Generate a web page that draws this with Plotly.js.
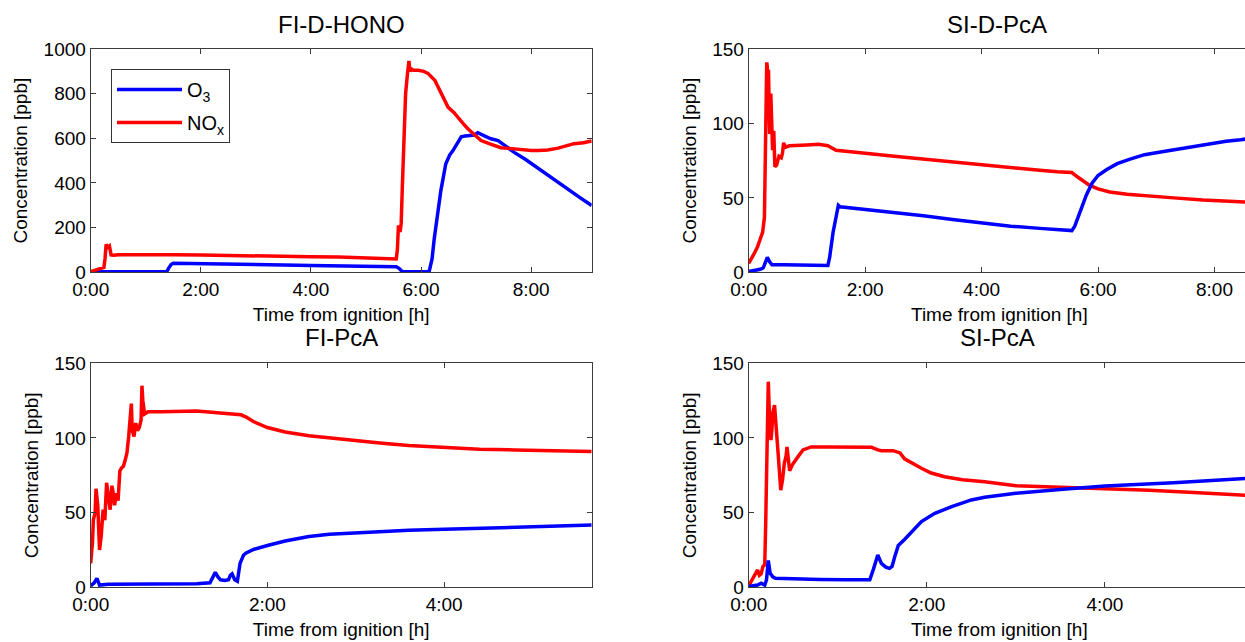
<!DOCTYPE html>
<html>
<head>
<meta charset="utf-8">
<script src="https://cdn.plot.ly/plotly-3.0.1.min.js"></script>
<style>
html,body{margin:0;padding:0;overflow:hidden;background:#fff;}
#chart{width:1250px;height:642px;}
</style>
</head>
<body>
<div id="chart"></div>
<script>
// ---------- data (time in hours from ignition, concentrations in ppb) ----------
const panelTitles = ['FI-D-HONO', 'SI-D-PcA', 'FI-PcA', 'SI-PcA'];
const seriesNames = ['O<sub>3</sub>', 'NO<sub>x</sub>'];
const xTickVals = [0, 2, 4, 6, 8];
const xTickText = ['0:00', '2:00', '4:00', '6:00', '8:00'];

// FI-D-HONO
const hono_nox_t = [0,0.1,0.2,0.24,0.26,0.28,0.31,0.34,0.37,0.42,0.5,1.0,1.5,2.0,2.5,3.0,3.5,4.0,4.5,5.0,5.3,5.55,5.57,5.59,5.62,5.64,5.66,5.69,5.72,5.75,5.78,5.8,5.83,5.86,5.95,6.05,6.13,6.25,6.4,6.49,6.6,6.67,6.77,6.85,6.95,7.09,7.25,7.45,7.6,7.82,8.0,8.13,8.3,8.49,8.65,8.78,8.95,9.1];
const hono_nox   = [3,10,16,22,60,125,112,118,78,76,79,80,79,77,76,74,72,70,68,65,63,60,100,210,180,220,380,600,800,880,946,900,910,905,905,900,890,860,790,740,715,692,665,643,620,590,575,558,555,549,545,545,548,556,568,576,580,588];
const hono_o3_t  = [0,0.5,1.0,1.38,1.42,1.46,1.5,2.0,2.5,3.0,3.5,4.0,4.5,5.0,5.4,5.55,5.6,5.65,5.7,6.0,6.12,6.15,6.2,6.24,6.3,6.36,6.45,6.52,6.58,6.66,6.73,6.8,6.91,6.97,7.03,7.1,7.2,7.27,7.4,7.5,7.7,7.9,8.1,8.3,8.5,8.7,8.9,9.1];
const hono_o3    = [2,2,2,3,20,35,40,39,37,35,33,31,29,28,27,25,18,5,2,2,3,6,60,150,260,366,486,525,545,580,607,610,612,615,625,615,605,598,590,572,536,505,470,433,400,365,332,299];

// SI-D-PcA
const sid_nox_t = [0,0.05,0.1,0.15,0.2,0.24,0.27,0.29,0.3,0.31,0.32,0.33,0.34,0.36,0.38,0.4,0.41,0.43,0.45,0.48,0.52,0.56,0.58,0.6,0.63,0.7,0.8,1.0,1.2,1.36,1.5,1.7,2.0,2.5,3.0,3.5,4.0,4.5,5.0,5.3,5.55,5.65,5.75,5.85,6.0,6.2,6.5,6.9,7.3,7.8,8.2,8.61];
const sid_nox   = [6,9,13,17,22,27,37,82,130,141,138,110,136,93,120,100,82,95,71,72,78,77,80,87,84,85,85,85.5,86,85,82,81,80,78,76,74,72,70,68.5,67.5,67,64,61,58.5,56,54,52.5,51,50,48.5,48,47];
const sid_o3_t  = [0,0.1,0.2,0.25,0.3,0.32,0.36,0.4,0.6,0.8,1.0,1.2,1.36,1.39,1.42,1.45,1.5,1.54,1.57,1.7,2.0,2.5,3.0,3.5,4.0,4.5,5.0,5.3,5.55,5.6,5.7,5.8,5.9,6.0,6.15,6.33,6.55,6.8,7.1,7.4,7.7,7.96,8.2,8.45,8.61];
const sid_o3    = [0.5,1,2,3,8,10,7,5,5,5,5,4.8,4.5,10,20,27,37,45,44,43.5,42.4,40,38,35.5,33,31,29.5,29,28,31,41,52,60,65,69,73,76,79,81,83,85,86.5,88,89,90];

// FI-PcA
const fi_nox_t = [0,0.02,0.03,0.05,0.06,0.08,0.1,0.12,0.14,0.16,0.18,0.2,0.22,0.24,0.25,0.27,0.29,0.31,0.33,0.35,0.37,0.39,0.41,0.43,0.44,0.46,0.47,0.49,0.51,0.53,0.55,0.57,0.58,0.59,0.61,0.65,0.8,1.0,1.2,1.4,1.55,1.7,1.76,1.84,2.0,2.2,2.47,2.7,3.04,3.3,3.6,4.0,4.4,4.8,5.2,5.67];
const fi_nox   = [16,30,45,50,66,55,25,35,52,45,70,60,52,68,65,55,63,58,78,80,81,85,90,101,110,123,105,101,110,105,107,112,135,125,116,117.5,117.5,118,118,117,116,115.5,114,111,107,104,101.5,100,98,96.5,95,93.5,92.5,92,91.5,91];
const fi_o3_t  = [0,0.04,0.07,0.1,0.2,0.5,0.8,1.0,1.2,1.35,1.38,1.41,1.44,1.47,1.52,1.56,1.58,1.6,1.63,1.66,1.69,1.73,1.76,1.85,2.0,2.2,2.47,2.7,3.04,3.3,3.6,4.0,4.4,4.8,5.2,5.67];
const fi_o3    = [1,3,6,1.5,2,2,2.2,2.3,2.4,3,7,10,7,5,4.5,5,8,9,5,4,16,21.6,23,25.5,28,31,34,35.5,36.6,37.5,38.2,38.8,39.5,40.6,41,41.7];

// SI-PcA
const si_nox_t = [0,0.05,0.1,0.12,0.14,0.16,0.18,0.19,0.2,0.21,0.22,0.23,0.25,0.26,0.27,0.29,0.31,0.33,0.36,0.38,0.4,0.42,0.43,0.45,0.46,0.49,0.52,0.56,0.61,0.7,0.9,1.1,1.38,1.45,1.49,1.62,1.7,1.75,1.85,1.94,2.05,2.2,2.4,2.65,3.0,3.5,4.0,4.5,5.0,5.63];
const si_nox   = [1,6,11.6,8,9,14,15,40,78,125,137.7,120,98.6,105,116.5,122,108,90,65,72,83,88,94,84,78,82,85,88,92,94,94,94,93.7,92,91.5,91.5,90,86,82.5,79.7,76.5,74,72,70.7,68,67,66.3,65,63.5,61.4];
const si_o3_t  = [0,0.1,0.14,0.18,0.2,0.22,0.24,0.27,0.3,0.5,0.8,1.1,1.36,1.4,1.43,1.45,1.49,1.54,1.58,1.61,1.64,1.68,1.75,1.83,1.94,2.09,2.28,2.5,2.65,3.0,3.25,3.53,4.0,4.4,4.77,5.2,5.63];
const si_o3    = [0.5,1.5,2.7,1.5,5,18,9.5,7,6,5.5,5.3,5.1,5,12,19,21.6,16,13.5,12.7,14,20.5,28,32,37,44,49.5,54,58.5,60.3,63,64.5,65.6,67.8,68.7,70,71.5,73];

// ---------- styling / layout ----------
const FONT = 'Liberation Sans, Arial, Helvetica, sans-serif';
const BLUE = '#0000ff', RED = '#ff0000';
const LW = 3.5;

function tr(x, y, name, color, xa, ya, show) {
  return {x: x, y: y, name: name, type: 'scatter', mode: 'lines',
          line: {color: color, width: LW}, xaxis: xa, yaxis: ya,
          showlegend: show, legendgroup: name, hoverinfo: 'skip'};
}

const data = [
  tr(hono_o3_t, hono_o3, seriesNames[0], BLUE, 'x', 'y', true),
  tr(hono_nox_t, hono_nox, seriesNames[1], RED, 'x', 'y', true),
  tr(sid_nox_t, sid_nox, seriesNames[1], RED, 'x2', 'y2', false),
  tr(sid_o3_t, sid_o3, seriesNames[0], BLUE, 'x2', 'y2', false),
  tr(fi_nox_t, fi_nox, seriesNames[1], RED, 'x3', 'y3', false),
  tr(fi_o3_t, fi_o3, seriesNames[0], BLUE, 'x3', 'y3', false),
  tr(si_nox_t, si_nox, seriesNames[1], RED, 'x4', 'y4', false),
  tr(si_o3_t, si_o3, seriesNames[0], BLUE, 'x4', 'y4', false)
];

const W = 1250, H = 642;
const dLeft = [90.7 / W, 591.7 / W];
const dRight = [748.7 / W, 1];
const dTop = [1 - 272.3 / H, 1 - 49 / H];
const dBot = [1 - 587.3 / H, 1 - 363.3 / H];

const axCommon = {
  showline: true, linecolor: '#3c3c3c', linewidth: 1, mirror: 'ticks',
  ticks: 'inside', ticklen: 5, tickcolor: '#3c3c3c', tickwidth: 1,
  showgrid: false, zeroline: false, fixedrange: true,
  tickfont: {family: FONT, size: 19, color: '#000'}
};
function xa(domain, range, anchor) {
  return Object.assign({}, axCommon, {
    domain: domain, range: range, anchor: anchor,
    tickmode: 'array', tickvals: xTickVals, ticktext: xTickText,
    title: {text: 'Time from ignition [h]', font: {family: FONT, size: 19, color: '#000'}, standoff: 8}
  });
}
function ya(domain, range, dtick, anchor) {
  return Object.assign({}, axCommon, {
    domain: domain, range: range, anchor: anchor, dtick: dtick, tick0: 0,
    title: {text: 'Concentration [ppb]', font: {family: FONT, size: 19, color: '#000'}, standoff: 10}
  });
}

const titleY = [1 - 24.7 / H, 1 - 24.7 / H, 1 - 338 / H, 1 - 338 / H];
const titleX = [(dLeft[0] + dLeft[1]) / 2, (748.7 + 248.5) / W, (dLeft[0] + dLeft[1]) / 2, (748.7 + 248.5) / W];
const annotations = panelTitles.map((t, i) => ({
  text: t, xref: 'paper', yref: 'paper', x: titleX[i], y: titleY[i],
  xanchor: 'center', yanchor: 'middle', showarrow: false,
  font: {family: FONT, size: 24, color: '#000'}
}));

const layout = {
  width: W, height: H,
  margin: {l: 0, r: 0, t: 0, b: 0, autoexpand: false},
  paper_bgcolor: '#fff', plot_bgcolor: '#fff',
  font: {family: FONT, color: '#000'},
  xaxis: xa(dLeft, [0, 9.10], 'y'),
  yaxis: ya(dTop, [0, 1000], 200, 'x'),
  xaxis2: xa(dRight, [0, 8.61], 'y2'),
  yaxis2: ya(dTop, [0, 150], 50, 'x2'),
  xaxis3: xa(dLeft, [0, 5.67], 'y3'),
  yaxis3: ya(dBot, [0, 150], 50, 'x3'),
  xaxis4: xa(dRight, [0, 5.63], 'y4'),
  yaxis4: ya(dBot, [0, 150], 50, 'x4'),
  showlegend: true,
  legend: {
    x: 111 / W, y: 1 - 69 / H, xanchor: 'left', yanchor: 'top',
    bgcolor: '#fff', bordercolor: '#333', borderwidth: 1,
    font: {family: FONT, size: 20, color: '#000'},
    traceorder: 'grouped', tracegroupgap: 4, itemwidth: 65
  },
  annotations: annotations
};

Plotly.newPlot('chart', data, layout, {staticPlot: true, displayModeBar: false});
</script>
</body>
</html>
